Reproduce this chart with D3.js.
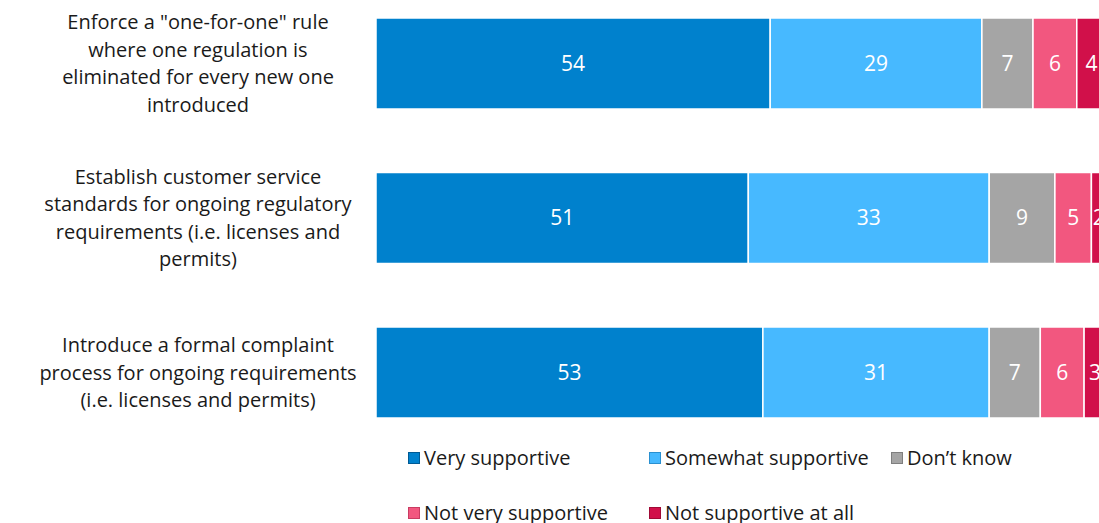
<!DOCTYPE html>
<html>
<head>
<meta charset="utf-8">
<script src="https://cdn.jsdelivr.net/npm/d3@7"></script>
<style>
  body { margin: 0; background: #fff; }
  svg { font-family: "Open Sans", "Noto Sans", sans-serif; }
</style>
</head>
<body>
<script>
// data
var categories = [
    ["Enforce a \"one-for-one\"  rule", "where one regulation is", "eliminated for every new one", "introduced"],
    ["Establish customer service", "standards for ongoing regulatory", "requirements (i.e. licenses and", "permits)"],
    ["Introduce a formal complaint", "process for ongoing requirements", "(i.e. licenses and permits)"]
];
var seriesNames = ["Very supportive", "Somewhat supportive", "Don\u2019t know", "Not very supportive", "Not supportive at all"];
var veryS = [54, 51, 53];
var somewhatS = [29, 33, 31];
var dontKnow = [7, 9, 7];
var notVery = [6, 5, 6];
var notAtAll = [4, 2, 3];
var colors = ["#0081cd", "#47b9ff", "#a5a5a5", "#f2577f", "#d1104a"];
var borders = ["#005a94", "#2a90d0", "#7f7f7f", "#c93c62", "#a00a36"];

var rows = categories.map(function (c, i) {
    return { idx: i, v0: veryS[i], v1: somewhatS[i], v2: dontKnow[i], v3: notVery[i], v4: notAtAll[i] };
});

var svg = d3.select("body").append("svg")
    .attr("width", 1099)
    .attr("height", 523);

var x = d3.scaleLinear().domain([0, 100]).range([376, 1106]);
var y = d3.scaleBand()
    .domain(d3.range(categories.length))
    .range([-13.75, 449.75])
    .paddingInner(0.411)
    .paddingOuter(0.2055);

var stack = d3.stack().keys(["v0", "v1", "v2", "v3", "v4"]);
var layers = stack(rows);

var g = svg.selectAll(".layer")
    .data(layers)
    .enter()
    .append("g")
    .attr("class", "layer")
    .attr("fill", function (d, i) { return colors[i]; });

g.selectAll("rect")
    .data(function (d) { return d; })
    .enter()
    .append("rect")
    .attr("x", function (d) { return x(d[0]); })
    .attr("y", function (d) { return y(d.data.idx); })
    .attr("width", function (d) { return x(d[1]) - x(d[0]); })
    .attr("height", y.bandwidth())
    .attr("stroke", "#fff")
    .attr("stroke-width", 1.5);

// value labels
g.selectAll("text")
    .data(function (d) { return d; })
    .enter()
    .append("text")
    .attr("x", function (d) { return (x(d[0]) + x(d[1])) / 2; })
    .attr("y", function (d) { return y(d.data.idx) + y.bandwidth() / 2; })
    .attr("dy", "0.35em")
    .attr("text-anchor", "middle")
    .attr("fill", "#fff")
    .attr("font-size", 21)
    .text(function (d) { return d[1] - d[0]; });

// category labels
var lineH = 27.5;
svg.selectAll(".cat")
    .data(categories)
    .enter()
    .append("text")
    .attr("class", "cat")
    .attr("text-anchor", "middle")
    .attr("font-size", 20)
    .attr("fill", "#1a1a1a")
    .each(function (lines, i) {
        var cy = y(i) + y.bandwidth() / 2;
        var top = cy - (lines.length - 1) * lineH / 2;
        d3.select(this).selectAll("tspan")
            .data(lines)
            .enter()
            .append("tspan")
            .attr("x", 198)
            .attr("y", function (d, j) { return top + j * lineH; })
            .attr("dy", "0.35em")
            .text(function (d) { return d; });
    });

// legend
var legX = [408, 649, 891];
var legend = svg.selectAll(".leg")
    .data(seriesNames)
    .enter()
    .append("g")
    .attr("class", "leg")
    .attr("transform", function (d, i) {
        return "translate(" + legX[i % 3] + "," + (458 + Math.floor(i / 3) * 55) + ")";
    });
legend.append("rect")
    .attr("x", 0.5)
    .attr("y", -5.5)
    .attr("width", 11)
    .attr("height", 11)
    .attr("fill", function (d, i) { return colors[i]; })
    .attr("stroke", function (d, i) { return borders[i]; })
    .attr("stroke-width", 1);
legend.append("text")
    .attr("x", 16)
    .attr("y", 0)
    .attr("dy", "0.35em")
    .attr("font-size", 20)
    .attr("fill", "#1a1a1a")
    .text(function (d) { return d; });
</script>
</body>
</html>
